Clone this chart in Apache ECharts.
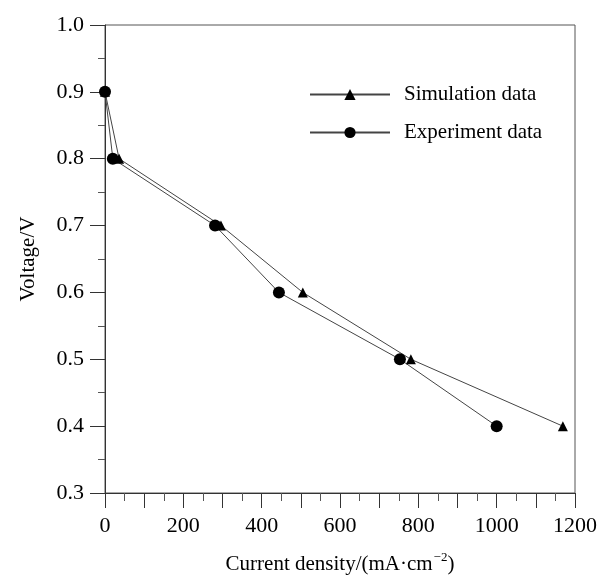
<!DOCTYPE html>
<html>
<head>
<meta charset="utf-8">
<script src="https://cdn.jsdelivr.net/npm/echarts@6/dist/echarts.min.js"></script>
<style>
  html, body { margin: 0; padding: 0; background: #fff; }
  #chart { width: 600px; height: 580px; }
</style>
</head>
<body>
<div id="chart"></div>
<script>
// Données
const simCurrent = [0, 36, 296, 505, 781, 1169];
const simVoltage = [0.9, 0.8, 0.7, 0.6, 0.5, 0.4];
const expCurrent = [0, 20, 281, 444, 753, 1000];
const expVoltage = [0.9, 0.8, 0.7, 0.6, 0.5, 0.4];
const seriesNames = ['Simulation data', 'Experiment data'];

const font = 'Liberation Serif';

function pairs(xs, ys) {
    return xs.map((x, i) => [x, ys[i]]);
}

const chart = echarts.init(document.getElementById('chart'));

chart.setOption({
    animation: false,
    textStyle: { fontFamily: font, color: '#000' },
    grid: {
        left: 105, right: 25, top: 25, bottom: 83,
        show: true, borderColor: '#555', borderWidth: 1
    },
    legend: {
        orient: 'vertical',
        left: 304, top: 79,
        itemWidth: 80, itemHeight: 14, itemGap: 17,
        textStyle: { fontFamily: font, fontSize: 21, color: '#000', padding: [0, 0, 0, 9] },
        data: seriesNames
    },
    xAxis: {
        type: 'value',
        min: 0, max: 1200, interval: 100,
        name: '{a|Current density/(mA·cm}{s|−2}{a|)}',
        nameLocation: 'middle', nameGap: 58,
        nameTextStyle: {
            rich: {
                a: { fontFamily: font, fontSize: 21, color: '#000' },
                s: { fontFamily: font, fontSize: 13, color: '#000', padding: [0, 0, 14, 1] }
            }
        },
        axisLine: { lineStyle: { color: '#333', width: 1 } },
        axisTick: { length: 15, lineStyle: { color: '#333' } },
        minorTick: { show: true, splitNumber: 2, length: 8, lineStyle: { color: '#555' } },
        splitLine: { show: false },
        axisLabel: {
            fontFamily: font, fontSize: 22, color: '#000', margin: 22,
            formatter: v => (v % 200 === 0 ? String(v) : '')
        }
    },
    yAxis: {
        type: 'value',
        min: 0.3, max: 1.0, interval: 0.1,
        name: 'Voltage/V',
        nameLocation: 'middle', nameGap: 66,
        nameTextStyle: { fontFamily: font, fontSize: 21, color: '#000' },
        axisLine: { lineStyle: { color: '#333', width: 1 } },
        axisTick: { length: 15, lineStyle: { color: '#333' } },
        minorTick: { show: true, splitNumber: 2, length: 7, lineStyle: { color: '#555' } },
        splitLine: { show: false },
        axisLabel: {
            fontFamily: font, fontSize: 22, color: '#000', margin: 21,
            formatter: v => v.toFixed(1)
        }
    },
    series: [
        {
            name: seriesNames[0],
            type: 'line',
            data: pairs(simCurrent, simVoltage),
            symbol: 'triangle', symbolSize: 10,
            lineStyle: { color: '#444', width: 1 },
            itemStyle: { color: '#000' }
        },
        {
            name: seriesNames[1],
            type: 'line',
            data: pairs(expCurrent, expVoltage),
            symbol: 'circle', symbolSize: 12,
            lineStyle: { color: '#444', width: 1 },
            itemStyle: { color: '#000' }
        }
    ]
});
</script>
</body>
</html>
